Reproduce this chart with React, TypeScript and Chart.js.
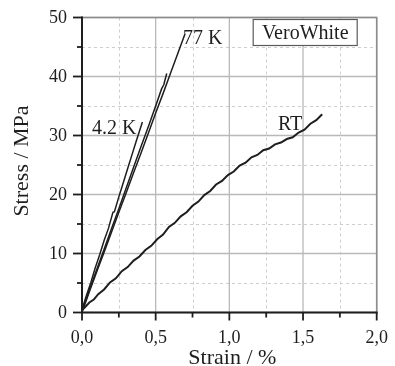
import React, { useEffect, useRef } from 'react';
import { Chart, registerables } from 'chart.js';

Chart.register(...registerables);

// ---- axis ticks ----
const xMajorTicks = [0, 0.5, 1.0, 1.5, 2.0];
const xTickLabels = ['0,0', '0,5', '1,0', '1,5', '2,0'];
const xMinorTicks = [0.25, 0.75, 1.25, 1.75];
const yMajorTicks = [0, 10, 20, 30, 40, 50];
const yTickLabels = ['0', '10', '20', '30', '40', '50'];
const yMinorTicks = [5, 15, 25, 35, 45];
const xTitle = 'Strain / %';
const yTitle = 'Stress / MPa';

// ---- data (strain %, stress MPa) ----
const rtStrain = [0, 0.02, 0.05, 0.08, 0.11, 0.15, 0.19, 0.23, 0.27, 0.31, 0.35, 0.39, 0.43, 0.47, 0.51, 0.55, 0.59, 0.63, 0.67, 0.71, 0.75, 0.79, 0.83, 0.87, 0.91, 0.95, 0.99, 1.03, 1.07, 1.11, 1.15, 1.19, 1.23, 1.27, 1.31, 1.35, 1.39, 1.43, 1.47, 1.51, 1.55, 1.59, 1.63];
const rtStress = [0.4, 0.9, 1.7, 2.2, 3.1, 3.9, 5.1, 5.8, 7.0, 7.7, 8.8, 9.5, 10.6, 11.3, 12.4, 13.2, 14.5, 15.2, 16.3, 17.0, 18.1, 18.8, 19.9, 20.6, 21.7, 22.3, 23.3, 23.9, 24.9, 25.4, 26.3, 26.7, 27.5, 27.8, 28.5, 28.8, 29.4, 29.7, 30.5, 31.0, 32.0, 32.6, 33.6];

const k42Strain = [0, 0.03, 0.06, 0.09, 0.12, 0.15, 0.18, 0.21, 0.22, 0.25, 0.28, 0.31, 0.34, 0.37, 0.41];
const k42Stress = [0.5, 2.9, 5.1, 7.6, 9.8, 12.2, 14.3, 17.0, 17.1, 19.6, 22.0, 24.4, 26.8, 29.2, 32.3];

const k77aStrain = [0, 0.05, 0.1, 0.15, 0.2, 0.25, 0.3, 0.35, 0.4, 0.45, 0.5, 0.54, 0.555, 0.575];
const k77aStress = [0.3, 3.8, 7.3, 10.7, 14.2, 17.6, 21.1, 24.6, 28.1, 31.5, 35.0, 37.9, 38.6, 40.5];

const k77bStrain = [0, 0.05, 0.1, 0.15, 0.2, 0.25, 0.3, 0.35, 0.4, 0.45, 0.5, 0.55, 0.6, 0.65, 0.7];
const k77bStress = [0.0, 3.5, 6.9, 10.2, 13.6, 17.0, 20.3, 23.7, 27.0, 30.4, 33.8, 37.1, 40.5, 43.9, 47.3];

// ---- text labels (placed in data coordinates) ----
const labelTexts = ['77 K', '4.2 K', 'RT'];
const labelStrain = [0.685, 0.068, 1.33];
const labelStress = [46.4, 31.1, 31.9];
const boxText = 'VeroWhite';

const SERIF = '"Liberation Serif", "Times New Roman", serif';
const INK = '#1e1e1e';

const pts = (xs: number[], ys: number[]) => xs.map((x, i) => ({ x, y: ys[i] }));

const decor = {
  id: 'decor',
  beforeDatasetsDraw(chart: any) {
    const { ctx, chartArea: a, scales } = chart;
    const x = scales.x, y = scales.y;
    ctx.save();
    ctx.lineWidth = 1;
    ctx.strokeStyle = '#cdcdcd';
    ctx.setLineDash([3, 3]);
    xMinorTicks.forEach((v) => {
      const px = Math.round(x.getPixelForValue(v)) + 0.5;
      ctx.beginPath(); ctx.moveTo(px, a.top); ctx.lineTo(px, a.bottom); ctx.stroke();
    });
    yMinorTicks.forEach((v) => {
      const py = Math.round(y.getPixelForValue(v)) + 0.5;
      ctx.beginPath(); ctx.moveTo(a.left, py); ctx.lineTo(a.right, py); ctx.stroke();
    });
    ctx.setLineDash([]);
    ctx.strokeStyle = '#b9b9b9';
    ctx.lineWidth = 1.3;
    xMajorTicks.forEach((v) => {
      const px = x.getPixelForValue(v);
      ctx.beginPath(); ctx.moveTo(px, a.top); ctx.lineTo(px, a.bottom); ctx.stroke();
    });
    yMajorTicks.forEach((v) => {
      const py = y.getPixelForValue(v);
      ctx.beginPath(); ctx.moveTo(a.left, py); ctx.lineTo(a.right, py); ctx.stroke();
    });
    ctx.restore();
  },
  afterDatasetsDraw(chart: any) {
    const { ctx, chartArea: a, scales } = chart;
    const x = scales.x, y = scales.y;
    ctx.save();
    // top / right frame
    ctx.strokeStyle = '#8c8c8c';
    ctx.lineWidth = 1.6;
    ctx.beginPath();
    ctx.moveTo(a.left, a.top); ctx.lineTo(a.right, a.top); ctx.lineTo(a.right, a.bottom);
    ctx.stroke();
    // axes
    ctx.strokeStyle = INK;
    ctx.lineWidth = 2;
    ctx.beginPath();
    ctx.moveTo(a.left, a.top - 1); ctx.lineTo(a.left, a.bottom); ctx.lineTo(a.right + 1, a.bottom);
    ctx.stroke();
    // tick marks
    ctx.lineWidth = 1.8;
    const tick = (x1: number, y1: number, x2: number, y2: number) => {
      ctx.beginPath(); ctx.moveTo(x1, y1); ctx.lineTo(x2, y2); ctx.stroke();
    };
    xMajorTicks.forEach((v) => { const px = x.getPixelForValue(v); tick(px, a.bottom, px, a.bottom + 8); });
    xMinorTicks.forEach((v) => { const px = x.getPixelForValue(v); tick(px, a.bottom, px, a.bottom + 5); });
    yMajorTicks.forEach((v) => { const py = y.getPixelForValue(v); tick(a.left - 9, py, a.left, py); });
    yMinorTicks.forEach((v) => { const py = y.getPixelForValue(v); tick(a.left - 5, py, a.left, py); });

    // tick labels
    ctx.fillStyle = INK;
    ctx.font = '18px ' + SERIF;
    ctx.textAlign = 'center';
    ctx.textBaseline = 'alphabetic';
    xMajorTicks.forEach((v, i) => ctx.fillText(xTickLabels[i], x.getPixelForValue(v), a.bottom + 30.5));
    ctx.textAlign = 'right';
    ctx.textBaseline = 'middle';
    yMajorTicks.forEach((v, i) => ctx.fillText(yTickLabels[i], a.left - 15, y.getPixelForValue(v) + 1));

    // axis titles
    ctx.font = '22px ' + SERIF;
    ctx.textAlign = 'center';
    ctx.textBaseline = 'alphabetic';
    ctx.fillText(xTitle, (a.left + a.right) / 2 + 3, a.bottom + 51);
    ctx.save();
    ctx.translate(28, (a.top + a.bottom) / 2 - 4);
    ctx.rotate(-Math.PI / 2);
    ctx.fillText(yTitle, 0, 0);
    ctx.restore();

    // curve labels
    ctx.font = '20px ' + SERIF;
    ctx.textAlign = 'left';
    ctx.textBaseline = 'middle';
    labelTexts.forEach((t, i) => {
      ctx.fillText(t, x.getPixelForValue(labelStrain[i]), y.getPixelForValue(labelStress[i]));
    });
    // legend box
    const bw = 104, bh = 26;
    const bx = a.right - 19.5 - bw, by = a.top + 2;
    ctx.fillStyle = '#ffffff';
    ctx.fillRect(bx, by, bw, bh);
    ctx.strokeStyle = '#5a5a5a';
    ctx.lineWidth = 1.2;
    ctx.strokeRect(bx, by, bw, bh);
    ctx.fillStyle = INK;
    ctx.textAlign = 'center';
    ctx.fillText(boxText, bx + bw / 2, by + bh / 2 + 1);
    ctx.restore();
  },
};

export default function App() {
  const ref = useRef<HTMLCanvasElement | null>(null);
  useEffect(() => {
    if (!ref.current) return;
    const line = (xs: number[], ys: number[], w: number) => ({
      data: pts(xs, ys),
      borderColor: INK,
      borderWidth: w,
      pointRadius: 0,
      tension: 0,
      fill: false,
    });
    const chart = new Chart(ref.current, {
      type: 'line',
      data: {
        datasets: [
          line(rtStrain, rtStress, 2),
          line(k42Strain, k42Stress, 1.5),
          line(k77aStrain, k77aStress, 1.5),
          line(k77bStrain, k77bStress, 1.5),
        ],
      },
      options: {
        animation: false,
        responsive: false,
        devicePixelRatio: 1,
        layout: { padding: { top: 17.5, right: 18.3, left: 0, bottom: 0 } },
        plugins: { legend: { display: false }, tooltip: { enabled: false } },
        scales: {
          x: {
            type: 'linear',
            min: 0,
            max: 2,
            grid: { display: false, drawTicks: false },
            border: { display: false },
            ticks: { display: false },
            title: { display: false },
            afterFit: (s: any) => { s.height = 53.5; },
          },
          y: {
            type: 'linear',
            min: 0,
            max: 50,
            grid: { display: false, drawTicks: false },
            border: { display: false },
            ticks: { display: false },
            title: { display: false },
            afterFit: (s: any) => { s.width = 82; },
          },
        },
      },
      plugins: [decor],
    } as any);
    return () => chart.destroy();
  }, []);
  return (
    <div style={{ position: 'fixed', left: 0, top: 0, width: 395, height: 366, background: '#fff' }}>
      <canvas ref={ref} width={395} height={366} />
    </div>
  );
}
